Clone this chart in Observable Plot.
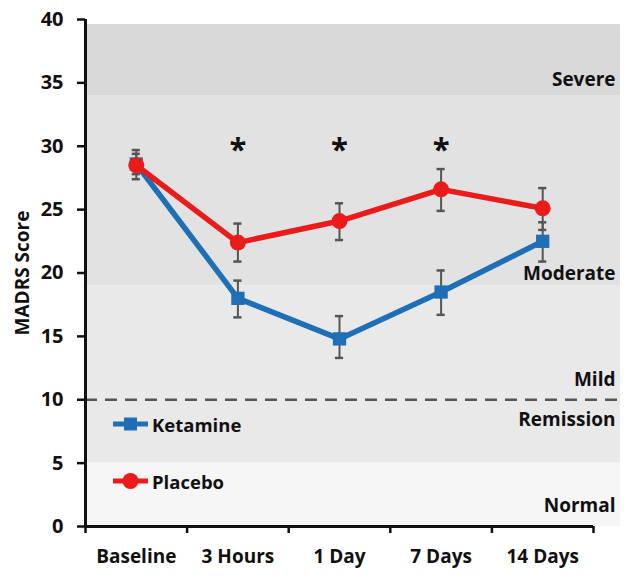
<!DOCTYPE html>
<html>
<head>
<meta charset="utf-8">
<script src="https://cdn.jsdelivr.net/npm/d3@7"></script>
<script src="https://cdn.jsdelivr.net/npm/@observablehq/plot@0.6"></script>
<style>
  html, body { margin: 0; padding: 0; background: #fff; }
  #wrap { position: relative; width: 640px; height: 578px; font-family: "Open Sans", Lato, sans-serif; }
  #legend { position: absolute; left: 0; top: 0; pointer-events: none; }
  .lg { position: absolute; display: flex; align-items: center; font-weight: bold; font-size: 18.5px; color: #111; }
</style>
</head>
<body>
<div id="wrap"></div>
<script>
const categories = ["Baseline", "3 Hours", "1 Day", "7 Days", "14 Days"];
const ketamineMean = [28.6, 18.0, 14.8, 18.5, 22.5];
const ketamineLow  = [27.8, 16.5, 13.3, 16.7, 20.9];
const ketamineHigh = [29.4, 19.4, 16.6, 20.2, 24.0];
const placeboMean  = [28.5, 22.4, 24.1, 26.6, 25.1];
const placeboLow   = [27.4, 20.9, 22.6, 24.9, 23.4];
const placeboHigh  = [29.7, 23.9, 25.5, 28.2, 26.7];
const significant  = ["3 Hours", "1 Day", "7 Days"];
const zoneNames  = ["Severe", "Moderate", "Mild", "Remission", "Normal"];
const zoneLow    = [34, 19, 10, 5, 0];
const zoneHigh   = [39.6, 34, 19, 10, 5];
const zoneLabelY = [35.2, 19.9, 11.6, 8.4, 1.6];
const yTicks = [0, 5, 10, 15, 20, 25, 30, 35, 40];
const remissionCut = 10;

const zoneFills = ["#d9d9d9", "#e2e2e2", "#e9e9ea", "#e9e9ea", "#f6f6f7"];
const BLUE = "#1f6fb6", RED = "#ea1b1b", ERR = "#555";
const FONT = "'Open Sans', Lato, sans-serif";

const idx = d => categories.indexOf(d) + 0.5;
const ket = categories.map((c, i) => ({x: i + 0.5, cat: c, mean: ketamineMean[i], low: ketamineLow[i], high: ketamineHigh[i]}));
const pla = categories.map((c, i) => ({x: i + 0.5, cat: c, mean: placeboMean[i], low: placeboLow[i], high: placeboHigh[i]}));
const zones = zoneNames.map((n, i) => ({name: n, lo: zoneLow[i], hi: zoneHigh[i], ly: zoneLabelY[i], fill: zoneFills[i]}));
const capHalf = 0.04;

function errMarks(data) {
  return [
    Plot.ruleX(data, {x: "x", y1: "low", y2: "high", stroke: ERR, strokeWidth: 2}),
    Plot.ruleY(data, {y: "low", x1: d => d.x - capHalf, x2: d => d.x + capHalf, stroke: ERR, strokeWidth: 2.5}),
    Plot.ruleY(data, {y: "high", x1: d => d.x - capHalf, x2: d => d.x + capHalf, stroke: ERR, strokeWidth: 2.5})
  ];
}

const chart = Plot.plot({
  width: 640,
  height: 578,
  marginLeft: 85,
  marginRight: 20,
  marginTop: 19,
  marginBottom: 52,
  style: {fontFamily: FONT, fontWeight: "bold", background: "white", color: "#111"},
  x: {type: "linear", domain: [0, 5], range: [85, 593]},
  y: {domain: [0, 40]},
  color: {type: "identity"},
  marks: [
    Plot.rect(zones, {y1: "lo", y2: "hi", fill: "fill"}),
    Plot.ruleY([remissionCut], {stroke: ERR, strokeWidth: 2.5, strokeDasharray: "12,8"}),
    Plot.text(zones, {y: "ly", text: "name", frameAnchor: "right", textAnchor: "end", dx: -5, fontSize: 19, fontWeight: "bold", fill: "#111"}),
    Plot.ruleX([0], {y1: 0, y2: 40, stroke: "#111", strokeWidth: 3}),
    Plot.ruleY([0], {x1: 0, x2: 5, stroke: "#111", strokeWidth: 3}),
    Plot.axisY({ticks: yTicks, tickSize: 8, tickPadding: 14, strokeWidth: 2.5, stroke: "#111", fill: "#111", fontSize: 20, label: null}),
    Plot.axisX({ticks: [0, 1, 2, 3, 4, 5], tickSize: 7, strokeWidth: 2.5, stroke: "#111", tickFormat: () => "", label: null}),
    Plot.axisX({ticks: categories.map((c, i) => i + 0.5), tickSize: 0, tickPadding: 23, tickFormat: v => categories[Math.round(v - 0.5)], fontSize: 19, fill: "#111", label: null}),
    Plot.text(["MADRS Score"], {frameAnchor: "left", textAnchor: "middle", rotate: -90, dx: -63, fontSize: 19, fontWeight: "bold", fill: "#111"}),
    Plot.line(ket, {x: "x", y: "mean", stroke: BLUE, strokeWidth: 5.5}),
    Plot.line(pla, {x: "x", y: "mean", stroke: RED, strokeWidth: 5.5}),
    ...errMarks(ket),
    ...errMarks(pla),
    Plot.dot(ket, {x: "x", y: "mean", symbol: "square", r: 7.5, fill: BLUE}),
    Plot.dot(pla, {x: "x", y: "mean", symbol: "circle", r: 8, fill: RED}),
    Plot.text(significant, {x: idx, y: 30.3, text: () => "*", fontSize: 31, fontWeight: "bold", fill: "#111", lineAnchor: "middle", dy: 8})
  ]
});

const wrap = document.getElementById("wrap");
wrap.appendChild(chart);

const legend = document.createElement("div");
legend.id = "legend";
legend.innerHTML = `
  <div class="lg" style="left:113px; top:411px; height:26px;">
    <svg width="38" height="26"><line x1="0" y1="13" x2="35" y2="13" stroke="${BLUE}" stroke-width="5"/><rect x="11" y="6.5" width="13" height="13" fill="${BLUE}"/></svg>
    <span style="margin-left:1px">Ketamine</span>
  </div>
  <div class="lg" style="left:113px; top:468px; height:26px;">
    <svg width="38" height="26"><line x1="0" y1="13" x2="35" y2="13" stroke="${RED}" stroke-width="5"/><circle cx="17.5" cy="13" r="8" fill="${RED}"/></svg>
    <span style="margin-left:1px">Placebo</span>
  </div>`;
wrap.appendChild(legend);
</script>
</body>
</html>
